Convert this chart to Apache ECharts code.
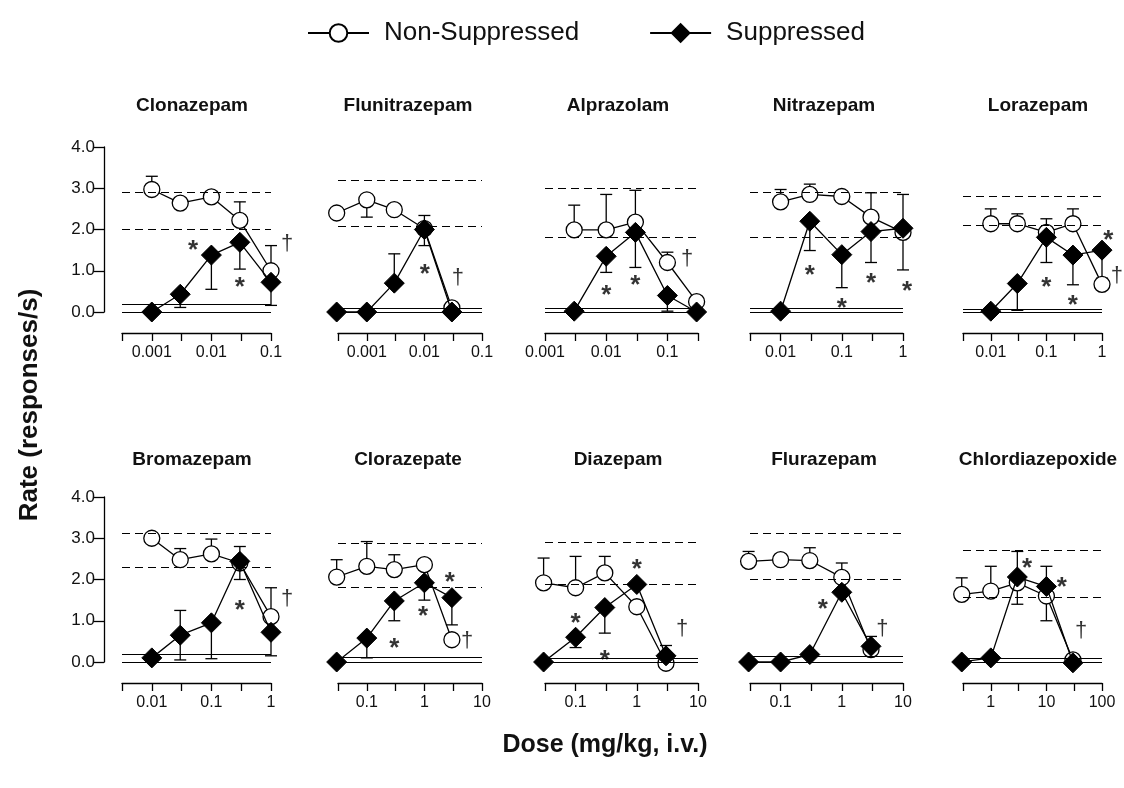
<!DOCTYPE html>
<html><head><meta charset="utf-8">
<script src="https://cdn.jsdelivr.net/npm/echarts@6/dist/echarts.min.js"></script>
<style>html,body{margin:0;padding:0;background:#fff}#c{width:1124px;height:788px}</style>
</head><body><div id="c"></div>
<script>
const drugNames = ['Clonazepam','Flunitrazepam','Alprazolam','Nitrazepam','Lorazepam','Bromazepam','Clorazepate','Diazepam','Flurazepam','Chlordiazepoxide'];
const doseLists = [
 [0.001,0.003,0.01,0.03,0.1],
 [0.0003,0.001,0.003,0.01,0.03],
 [0.003,0.01,0.03,0.1,0.3],
 [0.01,0.03,0.1,0.3,1],
 [0.01,0.03,0.1,0.3,1],
 [0.01,0.03,0.1,0.3,1],
 [0.03,0.1,0.3,1,3],
 [0.03,0.1,0.3,1,3],
 [0.03,0.1,0.3,1,3],
 [0.3,1,3,10,30]
];
// axis extent in log10(dose)
const axisDecades = [[-3.5,-1],[-3.5,-1],[-3,-0.5],[-2.5,0],[-2.5,0],[-2.5,0],[-1.5,1],[-1.5,1],[-1.5,1],[-0.5,2]];
const yTicks = [0,1,2,3,4];
const nonSuppressed = [
 [2.97,2.64,2.79,2.22,1.00],
 [2.40,2.72,2.48,2.02,0.10],
 [1.99,1.99,2.18,1.20,0.25],
 [2.67,2.85,2.80,2.30,1.93],
 [2.14,2.14,1.93,2.14,0.67],
 [3.00,2.48,2.62,2.40,1.10],
 [2.06,2.32,2.24,2.36,0.54],
 [1.92,1.80,2.16,1.34,-0.03],
 [2.44,2.48,2.46,2.05,0.30],
 [1.64,1.72,1.92,1.60,0.05]
];
const nonSuppressedErrUp = [
 [3.29,null,null,2.67,1.61],
 [null,null,null,null,null],
 [2.59,2.85,2.95,1.45,null],
 [2.97,3.10,null,2.89,2.85],
 [2.50,2.38,2.26,2.50,null],
 [null,2.75,2.98,2.80,1.80],
 [2.48,2.92,2.60,null,null],
 [2.52,2.56,2.56,null,null],
 [2.68,null,2.77,2.40,null],
 [2.04,2.32,null,2.32,null]
];
const nonSuppressedErrDown = [
 [null,null,null,null,null],
 [null,2.30,null,null,null],
 [null,null,null,null,null],
 [null,null,null,null,null],
 [null,null,null,null,null],
 [null,null,null,null,null],
 [null,null,null,null,null],
 [null,null,null,null,null],
 [null,null,null,null,null],
 [null,null,null,null,null]
];
const suppressed = [
 [0.00,0.43,1.38,1.69,0.72],
 [0.00,0.00,0.70,2.00,0.00],
 [0.02,1.35,1.93,0.40,0.00],
 [0.02,2.20,1.39,1.95,2.03],
 [0.02,0.69,1.81,1.38,1.50],
 [0.10,0.65,0.95,2.44,0.72],
 [0.00,0.58,1.48,1.92,1.56],
 [0.00,0.60,1.32,1.88,0.15],
 [0.00,0.00,0.18,1.69,0.38],
 [0.00,0.10,2.06,1.83,-0.02]
];
const suppressedErrDown = [
 [null,0.11,0.55,1.04,0.16],
 [null,null,null,1.61,null],
 [null,0.96,1.08,0.02,null],
 [null,1.49,0.59,1.20,1.02],
 [null,0.04,1.20,0.66,0.82],
 [null,0.05,0.08,2.00,0.15],
 [null,0.10,1.00,1.50,0.90],
 [null,0.35,0.70,null,null],
 [null,null,null,null,0.15],
 [null,null,1.40,1.00,null]
];
const suppressedErrUp = [
 [null,null,null,null,null],
 [null,null,1.41,2.34,null],
 [null,null,null,null,null],
 [null,null,null,null,null],
 [null,null,null,null,null],
 [null,1.25,null,null,null],
 [null,null,null,null,null],
 [null,null,null,null,0.40],
 [null,null,null,null,0.62],
 [null,null,2.68,null,null]
];
const dashedLevels = [[2.91,2.00],[3.20,2.08],[2.99,1.81],[2.91,1.81],[2.80,2.10],[3.13,2.30],[2.89,1.81],[2.90,1.88],[3.13,2.00],[2.71,1.58]];
const baselineLevels = [[0.19,0],[0.09,0],[0.09,0],[0.09,0],[0.07,0],[0.20,0],[0.12,0],[0.10,0],[0.15,0],[0.08,0]];
// [dose, rate] positions of significance marks
const asteriskMarks = [
 [[0.0049,1.65],[0.03,0.76]],
 [[0.0102,1.08]],
 [[0.01,0.55],[0.03,0.80]],
 [[0.03,1.04],[0.1,0.25],[0.3,0.85],[1.16,0.67]],
 [[0.1,0.76],[0.3,0.31],[1.3,1.9]],
 [[0.3,1.4]],
 [[2.75,2.08],[0.95,1.27],[0.3,0.5]],
 [[1.0,2.4],[0.1,1.1],[0.3,0.2]],
 [[0.49,1.44]],
 [[4.5,2.44],[19,1.96]]
];
const daggerMarks = [
 [[0.186,1.69]],
 [[0.038,0.88]],
 [[0.21,1.33]],
 [],
 [[1.86,0.92]],
 [[1.86,1.57]],
 [[5.5,0.55]],
 [[5.5,0.85]],
 [[4.6,0.85]],
 [[42,0.8]]
];

// ---- layout ----
const FONT = '"Liberation Sans", Arial, sans-serif';
const colLeft = [122,338,545,750,963];
const colWidth = [149,144,153,153,139];
const rowTop = [147,497];
const plotH = 165;
const titleX = [192,408,618,824,1038];
const titleY = [106,460];

const chart = echarts.init(document.getElementById('c'), null, {renderer:'canvas'});
const grids=[], xAxes=[], yAxes=[], series=[], graphics=[];
const lg = v => Math.log10(v);

function errRender(params, api){
  const p0 = api.coord([api.value(0), api.value(1)]);
  const p1 = api.coord([api.value(0), api.value(2)]);
  return {type:'group', children:[
    {type:'line', shape:{x1:p0[0],y1:p0[1],x2:p1[0],y2:p1[1]}, style:{stroke:'#000',lineWidth:1.3}},
    {type:'line', shape:{x1:p1[0]-6,y1:p1[1],x2:p1[0]+6,y2:p1[1]}, style:{stroke:'#000',lineWidth:1.3}}
  ]};
}
function errData(doses, vals, ends){
  const out=[];
  doses.forEach((d,k)=>{ if(ends[k]!==null && ends[k]!==undefined) out.push([lg(d), vals[k], ends[k]]); });
  return out;
}

drugNames.forEach((name,i)=>{
  const row = Math.floor(i/5), col = i%5;
  grids.push({left:colLeft[col], top:rowTop[row], width:colWidth[col], height:plotH, containLabel:false, outerBoundsMode:'none'});
  xAxes.push({gridIndex:i, type:'value', min:axisDecades[i][0], max:axisDecades[i][1], interval:0.5, offset:21,
    axisLine:{show:true, onZero:false, lineStyle:{color:'#000', width:1.3}},
    axisTick:{show:true, inside:false, length:8, lineStyle:{color:'#000', width:1.3}},
    splitLine:{show:false},
    axisLabel:{show:true, showMinLabel:true, showMaxLabel:true, margin:12, fontSize:16, color:'#111', fontFamily:FONT,
      formatter:v=>{ const r=Math.round(v); if(Math.abs(v-r)>1e-6) return ''; return r<0 ? Math.pow(10,r).toFixed(-r) : String(Math.round(Math.pow(10,r))); }}
  });
  yAxes.push({gridIndex:i, type:'value', min:yTicks[0], max:yTicks[yTicks.length-1], interval:1, show: col===0, offset:18,
    axisLine:{show:true, onZero:false, lineStyle:{color:'#000', width:1.3}},
    axisTick:{show:true, inside:false, length:10, lineStyle:{color:'#000', width:1.3}},
    splitLine:{show:false},
    axisLabel:{margin:9, fontSize:17, color:'#111', fontFamily:FONT, formatter:v=>v.toFixed(1)}
  });
  const doses = doseLists[i];
  const markData = [
    {yAxis:dashedLevels[i][0], lineStyle:{type:[8,5], color:'#000', width:1.2}},
    {yAxis:dashedLevels[i][1], lineStyle:{type:[8,5], color:'#000', width:1.2}},
    {yAxis:baselineLevels[i][0], lineStyle:{type:'solid', color:'#000', width:1.2}},
    {yAxis:baselineLevels[i][1], lineStyle:{type:'solid', color:'#000', width:1.2}}
  ];
  series.push({type:'custom', name:'nsErr'+i, xAxisIndex:i, yAxisIndex:i, z:2, clip:false, silent:true,
    renderItem:errRender, data: errData(doses, nonSuppressed[i], nonSuppressedErrUp[i]).concat(errData(doses, nonSuppressed[i], nonSuppressedErrDown[i]))});
  series.push({type:'custom', name:'sErr'+i, xAxisIndex:i, yAxisIndex:i, z:2, clip:false, silent:true,
    renderItem:errRender, data: errData(doses, suppressed[i], suppressedErrDown[i]).concat(errData(doses, suppressed[i], suppressedErrUp[i]))});
  series.push({type:'line', name:'Non-Suppressed', xAxisIndex:i, yAxisIndex:i, z:3, clip:false,
    data: doses.map((d,k)=>[lg(d), nonSuppressed[i][k]]),
    symbol:'circle', symbolSize:16, showAllSymbol:true,
    itemStyle:{color:'#fff', borderColor:'#000', borderWidth:1.3},
    lineStyle:{color:'#000', width:1.3},
    markLine:{silent:true, symbol:['none','none'], label:{show:false}, data:markData}
  });
  series.push({type:'line', name:'Suppressed', xAxisIndex:i, yAxisIndex:i, z:4, clip:false,
    data: doses.map((d,k)=>[lg(d), suppressed[i][k]]),
    symbol:'diamond', symbolSize:20, showAllSymbol:true,
    itemStyle:{color:'#000', borderColor:'#000', borderWidth:1},
    lineStyle:{color:'#000', width:1.3}
  });
  series.push({type:'scatter', name:'ast'+i, xAxisIndex:i, yAxisIndex:i, z:5, clip:false, silent:true,
    symbolSize:1, itemStyle:{color:'rgba(0,0,0,0)'},
    data: asteriskMarks[i].map(p=>[lg(p[0]), p[1]]),
    label:{show:true, position:'inside', formatter:'*', fontSize:26, fontWeight:'bold', color:'#000', fontFamily:FONT, offset:[0,7]}
  });
  series.push({type:'scatter', name:'dag'+i, xAxisIndex:i, yAxisIndex:i, z:5, clip:false, silent:true,
    symbolSize:1, itemStyle:{color:'rgba(0,0,0,0)'},
    data: daggerMarks[i].map(p=>[lg(p[0]), p[1]]),
    label:{show:true, position:'inside', formatter:'\u2020', fontSize:22, color:'#000', fontFamily:FONT, offset:[0,2]}
  });
  graphics.push({type:'text', x:titleX[col], y:titleY[row], style:{text:name, fill:'#111', font:'bold 19px '+FONT, align:'center', verticalAlign:'middle'}});
});

graphics.push({type:'text', x:30, y:405, rotation:Math.PI/2, style:{text:'Rate (responses/s)', fill:'#111', font:'bold 26px '+FONT, align:'center', verticalAlign:'middle'}});
graphics.push({type:'text', x:605, y:745, style:{text:'Dose (mg/kg, i.v.)', fill:'#111', font:'bold 25px '+FONT, align:'center', verticalAlign:'middle'}});

chart.setOption({
  animation:false,
  backgroundColor:'#fff',
  legend:{data:['Non-Suppressed','Suppressed'], left:302, top:15, itemWidth:61, itemHeight:22, itemGap:70,
    textStyle:{fontSize:26, color:'#111', fontFamily:FONT, padding:[0,0,0,10]}, selectedMode:false},
  grid:grids, xAxis:xAxes, yAxis:yAxes, series:series, graphic:graphics
});
</script>
</body></html>
